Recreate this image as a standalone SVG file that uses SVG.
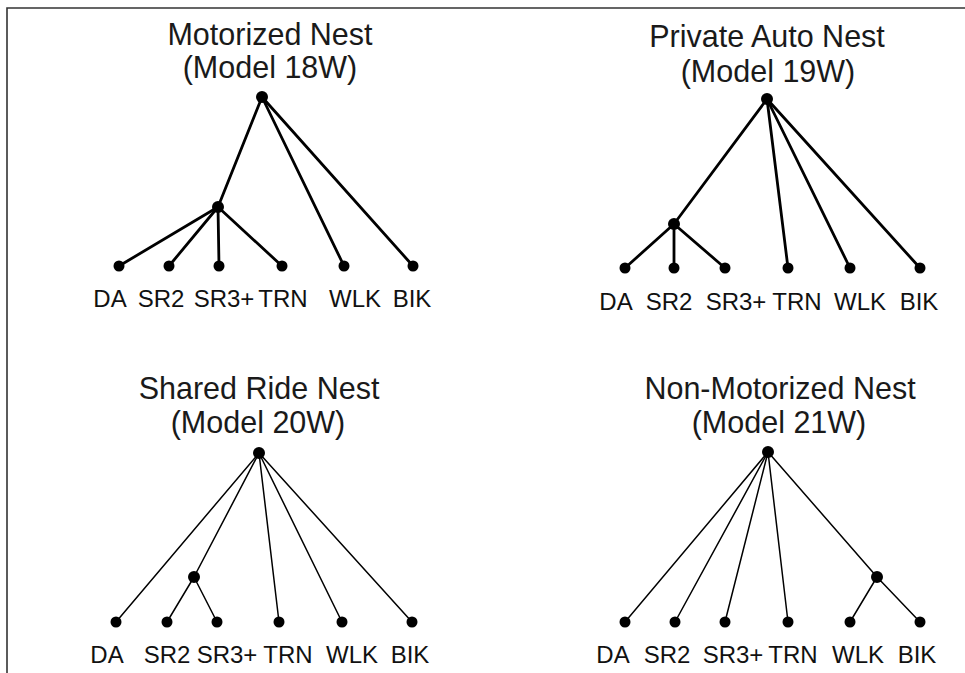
<svg xmlns="http://www.w3.org/2000/svg" width="965" height="673" viewBox="0 0 965 673">
<style>
.title{font-family:"Liberation Sans",Arial,sans-serif;font-size:30.5px;fill:#1a1a1a;text-anchor:middle}
.lbl{font-family:"Liberation Sans",Arial,sans-serif;font-size:24px;fill:#111;text-anchor:middle}
.thick line{stroke:#000;stroke-width:2.8;stroke-linecap:round}
.thin line{stroke:#000;stroke-width:1.5;stroke-linecap:round}
circle{fill:#000}
</style>
<rect width="965" height="673" fill="#fff"/>
<path d="M7 673 V8 H965" fill="none" stroke="#333" stroke-width="1.6"/>

<g id="connectors">
  <g class="thick" id="c18">
    <line x1="262" y1="97" x2="218" y2="207"/>
    <line x1="262" y1="97" x2="344" y2="266"/>
    <line x1="262" y1="97" x2="413" y2="266"/>
    <line x1="218" y1="207" x2="119" y2="266"/>
    <line x1="218" y1="207" x2="169" y2="266"/>
    <line x1="218" y1="207" x2="219" y2="266"/>
    <line x1="218" y1="207" x2="282" y2="266"/>
  </g>
  <g class="thick" id="c19">
    <line x1="767" y1="99" x2="674" y2="224"/>
    <line x1="767" y1="99" x2="788" y2="268"/>
    <line x1="767" y1="99" x2="850" y2="268"/>
    <line x1="767" y1="99" x2="920" y2="268"/>
    <line x1="674" y1="224" x2="625" y2="268"/>
    <line x1="674" y1="224" x2="674" y2="268"/>
    <line x1="674" y1="224" x2="725" y2="268"/>
  </g>
  <g class="thin" id="c20">
    <line x1="259" y1="453" x2="116" y2="622"/>
    <line x1="259" y1="453" x2="194" y2="577"/>
    <line x1="259" y1="453" x2="279" y2="622"/>
    <line x1="259" y1="453" x2="342" y2="622"/>
    <line x1="259" y1="453" x2="412" y2="622"/>
    <line x1="194" y1="577" x2="167" y2="622"/>
    <line x1="194" y1="577" x2="217" y2="622"/>
  </g>
  <g class="thin" id="c21">
    <line x1="768" y1="452" x2="625" y2="622"/>
    <line x1="768" y1="452" x2="675" y2="622"/>
    <line x1="768" y1="452" x2="725" y2="622"/>
    <line x1="768" y1="452" x2="788" y2="622"/>
    <line x1="768" y1="452" x2="877" y2="577"/>
    <line x1="877" y1="577" x2="850" y2="622"/>
    <line x1="877" y1="577" x2="920" y2="622"/>
  </g>
</g>

<g id="model18">
  <text class="title" x="270" y="45">Motorized Nest</text>
  <text class="title" x="270" y="78">(Model 18W)</text>
  <g id="m18-root"><circle cx="262" cy="97" r="6"/></g>
  <g id="m18-nest"><circle cx="218" cy="207" r="6"/></g>
  <g id="m18-da"><circle cx="119" cy="266" r="5.5"/><text class="lbl" x="110" y="307">DA</text></g>
  <g id="m18-sr2"><circle cx="169" cy="266" r="5.5"/><text class="lbl" x="161" y="307">SR2</text></g>
  <g id="m18-sr3"><circle cx="219" cy="266" r="5.5"/><text class="lbl" x="224" y="307">SR3+</text></g>
  <g id="m18-trn"><circle cx="282" cy="266" r="5.5"/><text class="lbl" x="283" y="307">TRN</text></g>
  <g id="m18-wlk"><circle cx="344" cy="266" r="5.5"/><text class="lbl" x="355" y="307">WLK</text></g>
  <g id="m18-bik"><circle cx="413" cy="266" r="5.5"/><text class="lbl" x="412" y="307">BIK</text></g>
</g>

<g id="model19">
  <text class="title" x="767" y="47">Private Auto Nest</text>
  <text class="title" x="768" y="82">(Model 19W)</text>
  <g id="m19-root"><circle cx="767" cy="99" r="6"/></g>
  <g id="m19-nest"><circle cx="674" cy="224" r="6"/></g>
  <g id="m19-da"><circle cx="625" cy="268" r="5.5"/><text class="lbl" x="616" y="310">DA</text></g>
  <g id="m19-sr2"><circle cx="674" cy="268" r="5.5"/><text class="lbl" x="669" y="310">SR2</text></g>
  <g id="m19-sr3"><circle cx="725" cy="268" r="5.5"/><text class="lbl" x="736" y="310">SR3+</text></g>
  <g id="m19-trn"><circle cx="788" cy="268" r="5.5"/><text class="lbl" x="797" y="310">TRN</text></g>
  <g id="m19-wlk"><circle cx="850" cy="268" r="5.5"/><text class="lbl" x="860" y="310">WLK</text></g>
  <g id="m19-bik"><circle cx="920" cy="268" r="5.5"/><text class="lbl" x="919" y="310">BIK</text></g>
</g>

<g id="model20">
  <text class="title" x="259" y="399">Shared Ride Nest</text>
  <text class="title" x="258" y="433">(Model 20W)</text>
  <g id="m20-root"><circle cx="259" cy="453" r="6"/></g>
  <g id="m20-nest"><circle cx="194" cy="577" r="6"/></g>
  <g id="m20-da"><circle cx="116" cy="622" r="5.5"/><text class="lbl" x="107" y="663">DA</text></g>
  <g id="m20-sr2"><circle cx="167" cy="622" r="5.5"/><text class="lbl" x="167" y="663">SR2</text></g>
  <g id="m20-sr3"><circle cx="217" cy="622" r="5.5"/><text class="lbl" x="227" y="663">SR3+</text></g>
  <g id="m20-trn"><circle cx="279" cy="622" r="5.5"/><text class="lbl" x="288" y="663">TRN</text></g>
  <g id="m20-wlk"><circle cx="342" cy="622" r="5.5"/><text class="lbl" x="352" y="663">WLK</text></g>
  <g id="m20-bik"><circle cx="412" cy="622" r="5.5"/><text class="lbl" x="410" y="663">BIK</text></g>
</g>

<g id="model21">
  <text class="title" x="780" y="399">Non-Motorized Nest</text>
  <text class="title" x="779" y="433">(Model 21W)</text>
  <g id="m21-root"><circle cx="768" cy="452" r="6"/></g>
  <g id="m21-nest"><circle cx="877" cy="577" r="6"/></g>
  <g id="m21-da"><circle cx="625" cy="622" r="5.5"/><text class="lbl" x="613" y="663">DA</text></g>
  <g id="m21-sr2"><circle cx="675" cy="622" r="5.5"/><text class="lbl" x="667" y="663">SR2</text></g>
  <g id="m21-sr3"><circle cx="725" cy="622" r="5.5"/><text class="lbl" x="733" y="663">SR3+</text></g>
  <g id="m21-trn"><circle cx="788" cy="622" r="5.5"/><text class="lbl" x="793" y="663">TRN</text></g>
  <g id="m21-wlk"><circle cx="850" cy="622" r="5.5"/><text class="lbl" x="858" y="663">WLK</text></g>
  <g id="m21-bik"><circle cx="920" cy="622" r="5.5"/><text class="lbl" x="917" y="663">BIK</text></g>
</g>
</svg>
